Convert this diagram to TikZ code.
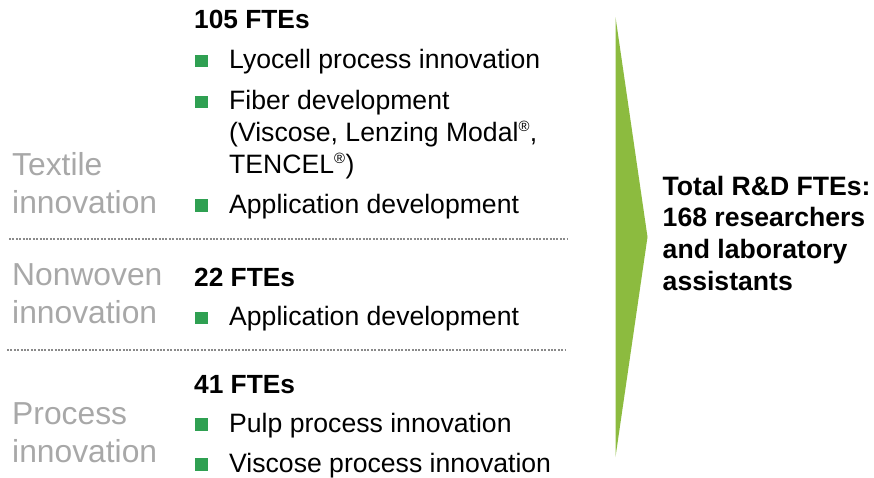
\documentclass[tikz,border=0pt]{standalone}
\usepackage{fontspec}
\setmainfont{Liberation Sans}
\begin{document}
\definecolor{labelgrey}{HTML}{A8A8A8}
\definecolor{bulletgreen}{HTML}{2FA052}
\definecolor{arrowgreen}{HTML}{8CBB3F}
\definecolor{rulegrey}{HTML}{8A8A8A}
\newcommand{\regmark}{\textsuperscript{\scalebox{0.8}{\textregistered}}}
\begin{tikzpicture}[x=1pt,y=-1pt,
  area/.style={anchor=base west,inner sep=0pt,text=labelgrey,font=\fontsize{31.8}{38}\selectfont},
  head/.style={anchor=base west,inner sep=0pt,font=\fontsize{26.3}{32}\selectfont\bfseries},
  item/.style={anchor=base west,inner sep=0pt,font=\fontsize{26.6}{32}\selectfont},
  bullet/.style={fill=bulletgreen,minimum width=13.5pt,minimum height=12.5pt,inner sep=0pt},
  sep/.style={draw=rulegrey,line width=2pt,dash pattern=on 2pt off 1.4pt},
  total/.style={anchor=base west,inner sep=0pt,font=\fontsize{26.6}{32}\selectfont\bfseries}]
\useasboundingbox (0,0) rectangle (874,477);

% summary arrow
\fill[arrowgreen] (615.5,17) -- (647.5,237) -- (615.5,457) -- cycle;

% textile block
\node[head] (h1) at (194,28) {105 FTEs};
\node[bullet] (b1) at (201.5,61) {};
\node[item] (t1) at (229,68) {Lyocell process innovation};
\node[bullet] (b2) at (201.5,102) {};
\node[item] (t2) at (229,109) {Fiber development};
\node[item] (t2b) at (229,141) {(Viscose, Lenzing Modal\regmark,};
\node[item] (t2c) at (229,173) {TENCEL\regmark)};
\node[bullet] (b3) at (201.5,205.5) {};
\node[item] (t3) at (229,213) {Application development};
\node[area] (a1) at (12,175) {Textile};
\node[area] (a1b) at (12,213) {innovation};

\coordinate (s1a) at (9,238.5);
\coordinate (s1b) at (568,238.5);
\draw[sep] (s1a) -- (s1b);

% nonwoven block
\node[head] (h2) at (194,286) {22 FTEs};
\node[bullet] (b4) at (201.5,318) {};
\node[item] (t4) at (229,325.5) {Application development};
\node[area] (a2) at (12,285) {Nonwoven};
\node[area] (a2b) at (12,323.5) {innovation};

\coordinate (s2a) at (7,350);
\coordinate (s2b) at (565,350);
\draw[sep] (s2a) -- (s2b);

% process block
\node[head] (h3) at (194,393) {41 FTEs};
\node[bullet] (b5) at (201.5,424.5) {};
\node[item] (t5) at (229,432) {Pulp process innovation};
\node[bullet] (b6) at (201.5,464.5) {};
\node[item] (t6) at (229,472) {Viscose process innovation};
\node[area] (a3) at (12,424) {Process};
\node[area] (a3b) at (12,462.5) {innovation};

% total
\node[total] (r1) at (662.5,195) {Total R\&D FTEs:};
\node[total] (r2) at (662.5,226.7) {168 researchers};
\node[total] (r3) at (662.5,258.3) {and laboratory};
\node[total] (r4) at (662.5,290) {assistants};
\end{tikzpicture}
\end{document}
